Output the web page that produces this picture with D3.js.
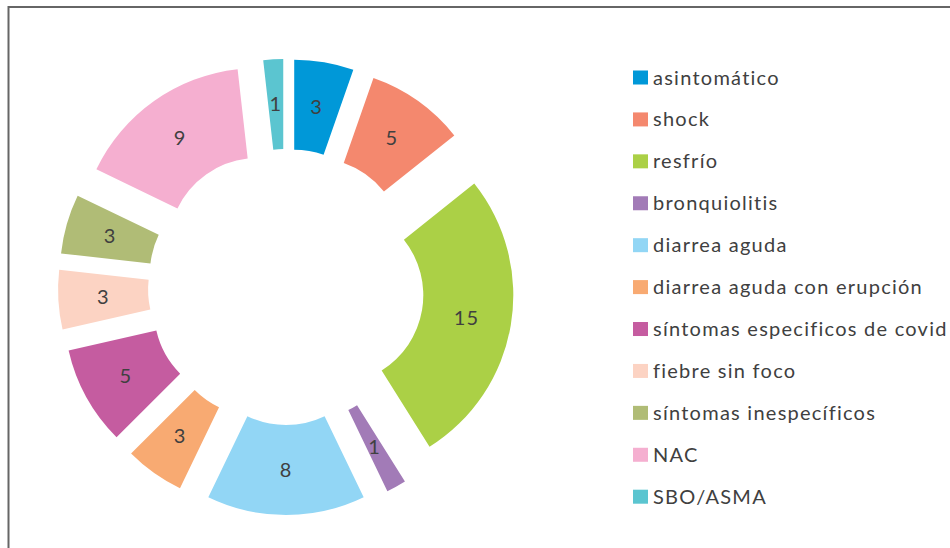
<!DOCTYPE html>
<html>
<head>
<meta charset="utf-8">
<script src="https://cdn.jsdelivr.net/npm/d3@7"></script>
<style>
  body { margin: 0; background: #fff; }
  svg { display: block; }
</style>
</head>
<body>
<div id="chart"></div>
<script>
const categories = ["asintomático", "shock", "resfrío", "bronquiolitis", "diarrea aguda",
  "diarrea aguda con erupción", "síntomas especificos de covid", "fiebre sin foco",
  "síntomas inespecíficos", "NAC", "SBO/ASMA"];
const values = [3, 5, 15, 1, 8, 3, 5, 3, 3, 9, 1];
const colors = ["#0098d8", "#f4886e", "#abd046", "#a27bb7", "#92d6f5", "#f8aa72",
  "#c55ca0", "#fcd3c3", "#b0bc76", "#f5afd0", "#5bc5d0"];

const width = 950;
const height = 548;
const center = {x: 286, y: 287};
const outerR = 179;
const innerR = 89;
const explode = 49;

let svg = d3.select("#chart")
            .append("svg")
            .attr("width", width)
            .attr("height", height);

// frame
svg.append("path")
    .attr("d", "M8.5,548 L8.5,7 L950,7")
    .style("fill", "none")
    .style("stroke", "#666")
    .style("stroke-width", 2);

let data = categories.map(function(c, i) {return {name: c, value: values[i], color: colors[i]};});

let pie = d3.pie()
            .sort(null)
            .value(function(d) {return d.value;});

let arc = d3.arc()
            .innerRadius(innerR)
            .outerRadius(outerR);

let arcs = pie(data);

function offset(d, extra) {
    let a = (d.startAngle + d.endAngle) / 2;
    return [Math.sin(a) * extra, -Math.cos(a) * extra];
}

let g = svg.append("g")
           .attr("transform", "translate(" + center.x + "," + center.y + ")");

let slices = g.selectAll("g.slice")
    .data(arcs)
    .enter()
    .append("g")
    .attr("class", "slice")
    .attr("transform", function(d) {
        let o = offset(d, explode);
        return "translate(" + o[0] + "," + o[1] + ")";
    });

slices.append("path")
    .attr("d", arc)
    .style("fill", function(d) {return d.data.color;});

slices.append("text")
    .attr("transform", function(d) {return "translate(" + arc.centroid(d) + ")";})
    .attr("text-anchor", "middle")
    .attr("dy", "0.35em")
    .style("font-family", "Lato, 'Open Sans', sans-serif")
    .style("font-size", "20px")
    .style("letter-spacing", "1px")
    .style("fill", "#404040")
    .text(function(d) {return d.data.value;});

// legend
let legendY = d3.scalePoint()
                .domain(categories)
                .range([77.5, 496.7]);

let legend = svg.append("g").selectAll("g")
    .data(data)
    .enter()
    .append("g")
    .attr("transform", function(d) {return "translate(633," + legendY(d.name) + ")";});

legend.append("rect")
    .attr("x", 0)
    .attr("y", -7)
    .attr("width", 15)
    .attr("height", 14)
    .style("fill", function(d) {return d.color;});

legend.append("text")
    .attr("x", 20)
    .attr("dy", "0.35em")
    .style("font-family", "Lato, 'Open Sans', sans-serif")
    .style("font-size", "20px")
    .style("letter-spacing", "1.25px")
    .style("fill", "#404040")
    .text(function(d) {return d.name;});
</script>
</body>
</html>
